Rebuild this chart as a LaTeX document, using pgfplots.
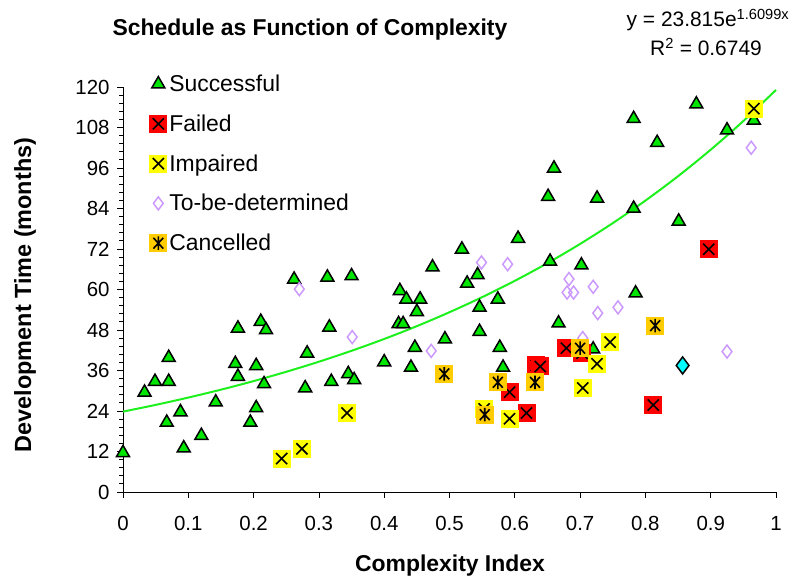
\documentclass[border=0pt]{standalone}
\usepackage{pgfplots}
\pgfplotsset{compat=1.18}
\usepackage{fontspec}
\setmainfont{Liberation Sans}
\definecolor{succgreen}{RGB}{0,230,0}
\definecolor{trendgreen}{RGB}{30,240,30}
\definecolor{failred}{RGB}{255,0,0}
\definecolor{impyellow}{RGB}{255,255,0}
\definecolor{canorange}{RGB}{255,204,0}
\definecolor{tbdlav}{RGB}{204,153,255}
\definecolor{cyanpt}{RGB}{0,255,255}

\pgfdeclareplotmark{sqx}{%
  \pgfpathrectangle{\pgfpoint{-\pgfplotmarksize}{-\pgfplotmarksize}}{\pgfpoint{2\pgfplotmarksize}{2\pgfplotmarksize}}%
  \pgfusepathqfill
  \pgfpathmoveto{\pgfpoint{-0.62\pgfplotmarksize}{-0.62\pgfplotmarksize}}%
  \pgfpathlineto{\pgfpoint{0.62\pgfplotmarksize}{0.62\pgfplotmarksize}}%
  \pgfpathmoveto{\pgfpoint{-0.62\pgfplotmarksize}{0.62\pgfplotmarksize}}%
  \pgfpathlineto{\pgfpoint{0.62\pgfplotmarksize}{-0.62\pgfplotmarksize}}%
  \pgfusepathqstroke
}
\pgfdeclareplotmark{sqast}{%
  \pgfpathrectangle{\pgfpoint{-\pgfplotmarksize}{-\pgfplotmarksize}}{\pgfpoint{2\pgfplotmarksize}{2\pgfplotmarksize}}%
  \pgfusepathqfill
  \pgfpathmoveto{\pgfpoint{-0.55\pgfplotmarksize}{-0.6\pgfplotmarksize}}%
  \pgfpathlineto{\pgfpoint{0.55\pgfplotmarksize}{0.6\pgfplotmarksize}}%
  \pgfpathmoveto{\pgfpoint{-0.55\pgfplotmarksize}{0.6\pgfplotmarksize}}%
  \pgfpathlineto{\pgfpoint{0.55\pgfplotmarksize}{-0.6\pgfplotmarksize}}%
  \pgfpathmoveto{\pgfpoint{0pt}{-0.75\pgfplotmarksize}}%
  \pgfpathlineto{\pgfpoint{0pt}{0.75\pgfplotmarksize}}%
  \pgfusepathqstroke
}

\begin{document}
\begin{tikzpicture}
\useasboundingbox (-123bp,-86bp) rectangle (674bp,492bp);
\begin{axis}[
  at={(0bp,0bp)}, anchor=south west,
  scale only axis, width=653bp, height=405bp,
  xmin=0, xmax=1, ymin=0, ymax=120,
  axis x line*=bottom, axis y line*=left,
  axis line style={-, line width=0.9bp, black},
  tick pos=left, tick align=outside,
  major tick length=6bp, minor tick length=4bp,
  tick style={black, line width=0.8bp},
  xtick={0,0.1,0.2,0.3,0.4,0.5,0.6,0.7,0.8,0.9,1},
  xticklabels={0,0.1,0.2,0.3,0.4,0.5,0.6,0.7,0.8,0.9,1},
  ytick={0,12,24,36,48,60,72,84,96,108,120},
  yticklabels={0,12,24,36,48,60,72,84,96,108,120},
  minor y tick num=4,
  ticklabel style={font=\fontsize{20.5}{20.5}\selectfont},
  xticklabel style={yshift=-15bp},
  yticklabel style={xshift=-4bp},
  clip=false,
  legend style={at={(axis description cs:0.04,1.035)}, anchor=north west,
    draw=none, fill=none, font=\fontsize{23}{23}\selectfont,
    row sep=17.7bp, inner sep=0pt},
  legend cell align=left,
  legend image code/.code={\draw[mark repeat=2,mark phase=2,#1] plot coordinates {(0bp,0bp) (9bp,0bp) (18bp,0bp)};},
]
% Successful
\addplot[only marks, mark=triangle*, mark size=7.5bp, mark options={fill=succgreen, draw=black, line width=1.5bp}] coordinates {
(0.000,11.6) (0.033,29.5) (0.049,32.7) (0.070,32.7) (0.070,39.8) (0.067,20.6)
(0.088,23.7) (0.093,13.0) (0.120,16.7) (0.142,26.6) (0.176,48.5) (0.172,38.0)
(0.176,34.2) (0.211,50.5) (0.219,48.0) (0.204,37.4) (0.216,32.0) (0.204,24.9)
(0.195,20.6) (0.282,41.1) (0.279,30.8) (0.262,63.0) (0.316,48.8) (0.319,32.7)
(0.313,63.6) (0.350,64.0) (0.345,35.0) (0.354,33.2) (0.400,38.5) (0.424,59.6)
(0.434,57.1) (0.455,57.1) (0.450,53.4) (0.422,49.8) (0.429,49.8) (0.447,42.8)
(0.441,36.9) (0.474,66.6) (0.493,45.3) (0.519,71.9) (0.527,61.8) (0.543,64.3)
(0.546,54.7) (0.546,47.5) (0.574,57.1) (0.577,42.8) (0.582,36.9) (0.605,75.1)
(0.654,68.3) (0.667,50.0) (0.660,95.9) (0.651,87.5) (0.702,67.2) (0.720,42.3)
(0.726,87.0) (0.782,84.0) (0.785,58.9) (0.782,110.6) (0.818,103.5) (0.851,80.2)
(0.878,114.9) (0.925,107.2) (0.966,110.1)
};
\addlegendentry{Successful}
% Failed
\addplot[only marks, mark=sqx, mark size=9bp, mark options={fill=failred, draw=black, line width=1.6bp}] coordinates {
(0.592,29.6) (0.618,23.4) (0.633,37.5) (0.639,37.2) (0.679,42.6) (0.703,41.1)
(0.812,25.8) (0.897,71.9)
};
\addlegendentry{Failed}
% Impaired
\addplot[only marks, mark=sqx, mark size=9bp, mark options={fill=impyellow, draw=black, line width=1.6bp}] coordinates {
(0.243,9.9) (0.274,12.8) (0.343,23.4) (0.553,24.6) (0.592,21.7) (0.704,30.8)
(0.726,38.0) (0.746,44.4) (0.966,113.6)
};
\addlegendentry{Impaired}
% To-be-determined
\addplot[only marks, mark=diamond, mark size=6.5bp, mark options={draw=tbdlav, line width=1.5bp}] coordinates {
(0.270,60.1) (0.351,45.9) (0.472,41.8) (0.549,68.0) (0.589,67.5) (0.683,63.1)
(0.680,59.1) (0.690,59.1) (0.720,60.8) (0.727,53.0) (0.758,54.7) (0.704,45.6)
(0.925,41.6) (0.962,102.0)
};
\addlegendentry{To-be-determined}
% Cancelled
\addplot[only marks, mark=sqast, mark size=9bp, mark options={fill=canorange, draw=black, line width=1.6bp}] coordinates {
(0.492,35.0) (0.554,22.9) (0.574,32.5) (0.631,32.5) (0.700,42.6) (0.815,49.3)
};
\addlegendentry{Cancelled}
% unlabelled point
\addplot[only marks, forget plot, mark=diamond*, mark size=8.5bp, mark options={fill=cyanpt, draw=black, line width=1.5bp}] coordinates {(0.857,37.5)};
% exponential trend line
\addplot[forget plot, trendgreen, line width=2bp, smooth] coordinates {
(0,23.82) (0.05,25.81) (0.1,27.98) (0.15,30.32) (0.2,32.86) (0.25,35.62)
(0.3,38.60) (0.35,41.84) (0.4,45.34) (0.45,49.14) (0.5,53.27) (0.55,57.73)
(0.6,62.57) (0.65,67.81) (0.7,73.50) (0.75,79.66) (0.8,86.34) (0.85,93.57)
(0.9,101.42) (0.95,109.92) (1.0,119.13)
};
\end{axis}
\node[font=\bfseries\fontsize{23}{23}\selectfont] at (187bp,462bp) {Schedule as Function of Complexity};
\node[font=\fontsize{21}{21}\selectfont] at (585bp,472bp) {y = 23.815e\textsuperscript{1.6099x}};
\node[font=\fontsize{21}{21}\selectfont] at (583bp,445bp) {R\textsuperscript{2} = 0.6749};
\node[font=\bfseries\fontsize{23.5}{23.5}\selectfont, rotate=90] at (-98bp,197bp) {Development Time (months)};
\node[font=\bfseries\fontsize{23}{23}\selectfont] at (327bp,-74bp) {Complexity Index};
\end{tikzpicture}
\end{document}
